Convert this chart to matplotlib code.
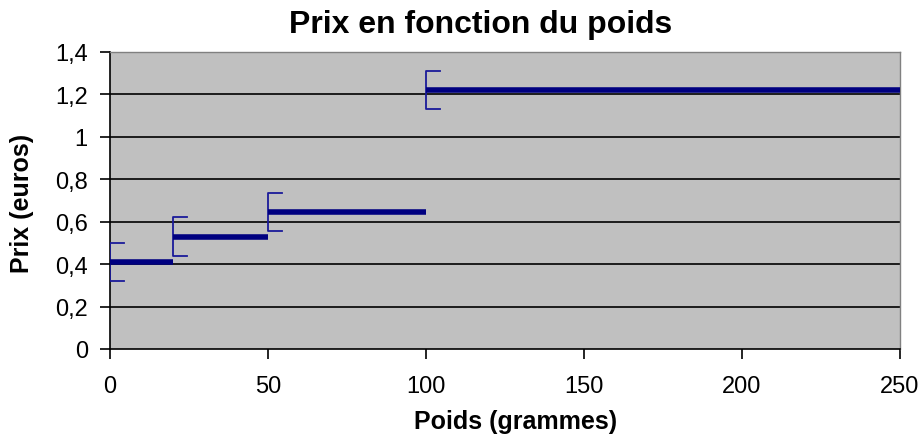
import matplotlib
matplotlib.use("Agg")
import matplotlib.pyplot as plt
from matplotlib.ticker import FixedLocator, FixedFormatter

# Data: price steps by weight band
seg_start = [0, 20, 50, 100]
seg_end = [20, 50, 100, 250]
prix = [0.41, 0.53, 0.645, 1.22]

x_ticks = [0, 50, 100, 150, 200, 250]
y_ticks = [0, 0.2, 0.4, 0.6, 0.8, 1.0, 1.2, 1.4]
y_tick_labels = ["0", "0,2", "0,4", "0,6", "0,8", "1", "1,2", "1,4"]

NAVY = "#000080"
BRACKET = "#1a1a9a"

plt.rcParams["font.family"] = ["Liberation Sans", "DejaVu Sans"]

fig = plt.figure(figsize=(9.22, 4.35), dpi=100)
ax = fig.add_axes([110 / 922, 1 - 350 / 435, 790 / 922, 297 / 435])
ax.set_facecolor("#c0c0c0")

for y in y_ticks[1:-1]:
    ax.axhline(y, color="black", linewidth=1.2, zorder=1)

# brackets "[" at the start of each band
bh, bw = 0.09, 4.5
for x0, y in zip(seg_start, prix):
    ax.plot([x0 + bw, x0, x0, x0 + bw], [y + bh, y + bh, y - bh, y - bh],
            color=BRACKET, linewidth=1.3, zorder=3)

for x0, x1, y in zip(seg_start, seg_end, prix):
    ax.plot([x0, x1], [y, y], color=NAVY, linewidth=4.0,
            solid_capstyle="butt", zorder=4, clip_on=False)

ax.set_xlim(0, 250)
ax.set_ylim(0, 1.4)
ax.xaxis.set_major_locator(FixedLocator(x_ticks))
ax.yaxis.set_major_locator(FixedLocator(y_ticks))
ax.yaxis.set_major_formatter(FixedFormatter(y_tick_labels))

for side in ["left", "bottom"]:
    ax.spines[side].set_color("black")
    ax.spines[side].set_linewidth(1.2)
for side in ["top", "right"]:
    ax.spines[side].set_color("#808080")
    ax.spines[side].set_linewidth(1.0)

ax.tick_params(axis="x", direction="out", length=7, width=1.2, pad=12,
               labelsize=17, colors="black")
ax.tick_params(axis="y", direction="out", length=7, width=1.2, pad=9,
               labelsize=17, colors="black")

fig.text(481 / 922, 1 - 25 / 435, "Prix en fonction du poids",
         ha="center", va="center", fontsize=23, fontweight="bold")
fig.text(516 / 922, 1 - 422 / 435, "Poids (grammes)",
         ha="center", va="center", fontsize=18, fontweight="bold")
fig.text(22 / 922, 1 - 203 / 435, "Prix (euros)", rotation=90,
         ha="center", va="center", fontsize=18, fontweight="bold")

fig.savefig("out.png", dpi=100)
